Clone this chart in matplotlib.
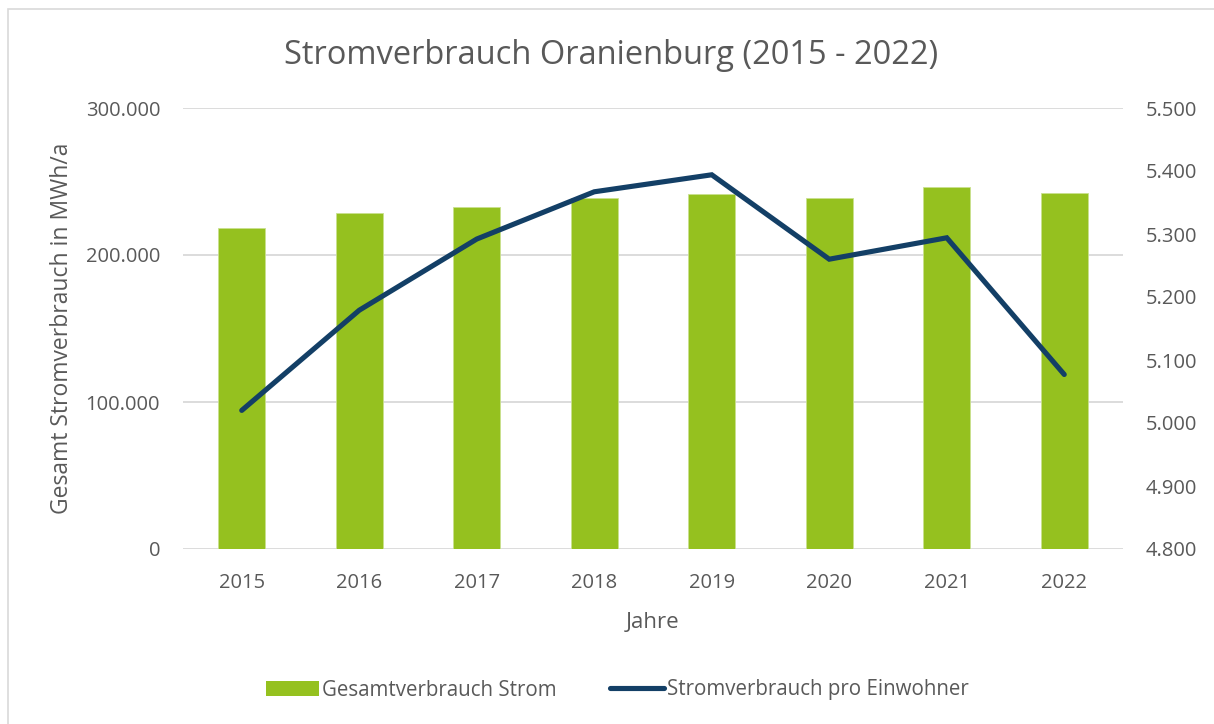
import matplotlib
matplotlib.use("Agg")
import matplotlib.pyplot as plt
from matplotlib.patches import Rectangle, Patch
from matplotlib.lines import Line2D
from matplotlib.ticker import FuncFormatter

# ---------- data ----------
years = ["2015", "2016", "2017", "2018", "2019", "2020", "2021", "2022"]
total_mwh = [218200, 228400, 232400, 238600, 241700, 239000, 246300, 242200]
per_capita = [5.020, 5.179, 5.292, 5.367, 5.394, 5.260, 5.294, 5.077]

GREEN = "#95C11F"
NAVY = "#133F66"
TEXT = "#595959"
GRID = "#D9D9D9"

plt.rcParams["font.family"] = ["Open Sans", "DejaVu Sans"]

W, H = 1214, 724
fig = plt.figure(figsize=(W / 100, H / 100), dpi=100)
fig.patch.set_facecolor("white")

# outer chart border (only top/left visible in the crop)
fig.patches.append(Rectangle((7.5 / W, -0.1), 1.2, 1 - 9.5 / H + 0.1,
                             transform=fig.transFigure, facecolor="none",
                             edgecolor=GRID, linewidth=1.2))

ax = fig.add_axes([183 / W, 1 - 549 / H, (1123 - 183) / W, (549 - 108) / H])
x = list(range(len(years)))
ax.bar(x, total_mwh, width=0.40, color=GREEN, edgecolor="#C9E18F",
       linewidth=0.6, zorder=2)
ax.set_xlim(-0.5, len(years) - 0.5)
ax.set_ylim(0, 300000)
ax.set_yticks([0, 100000, 200000, 300000])
ax.yaxis.set_major_formatter(FuncFormatter(lambda v, p: f"{int(v):,}".replace(",", ".")))
ax.grid(axis="y", color=GRID, linewidth=1.3, zorder=0)
ax.set_axisbelow(True)
for s in ax.spines.values():
    s.set_visible(False)
ax.set_xticks(x)
ax.set_xticklabels(years)
ax.tick_params(axis="both", length=0, labelsize=14.5, labelcolor=TEXT)
ax.tick_params(axis="y", pad=16.5)
ax.tick_params(axis="x", pad=17)
ax.set_xlabel("Jahre", fontsize=16, color=TEXT, labelpad=14)
ax.set_ylabel("Gesamt Stromverbrauch in MWh/a", fontsize=16.5, color=TEXT, labelpad=8)

ax2 = ax.twinx()
ax2.plot(x, per_capita, color=NAVY, linewidth=3.7, solid_capstyle="round",
         solid_joinstyle="miter", zorder=3)
ax2.set_ylim(4.8, 5.5)
ax2.set_yticks([4.8, 4.9, 5.0, 5.1, 5.2, 5.3, 5.4, 5.5])
ax2.yaxis.set_major_formatter(FuncFormatter(lambda v, p: f"{v:.3f}"))
for s in ax2.spines.values():
    s.set_visible(False)
ax2.tick_params(axis="y", length=0, labelsize=14.5, labelcolor=TEXT, pad=16.5)

fig.text(0.5 + 4 / W, 1 - 55 / H, "Stromverbrauch Oranienburg (2015 - 2022)",
         ha="center", va="center", fontsize=23.5, color=TEXT)

handles = [Patch(facecolor=GREEN, edgecolor="none", label="Gesamtverbrauch Strom"),
           Line2D([0], [0], color=NAVY, linewidth=3.7, solid_capstyle="round",
                  label="Stromverbrauch pro Einwohner")]
fig.legend(handles=handles, loc="center", bbox_to_anchor=(617 / W, 1 - 690 / H),
           ncol=2, frameon=False, fontsize=14.8, labelcolor=TEXT,
           handlelength=2.6, handletextpad=0.15, columnspacing=2.6)

fig.savefig("out.png", dpi=100, facecolor="white")
